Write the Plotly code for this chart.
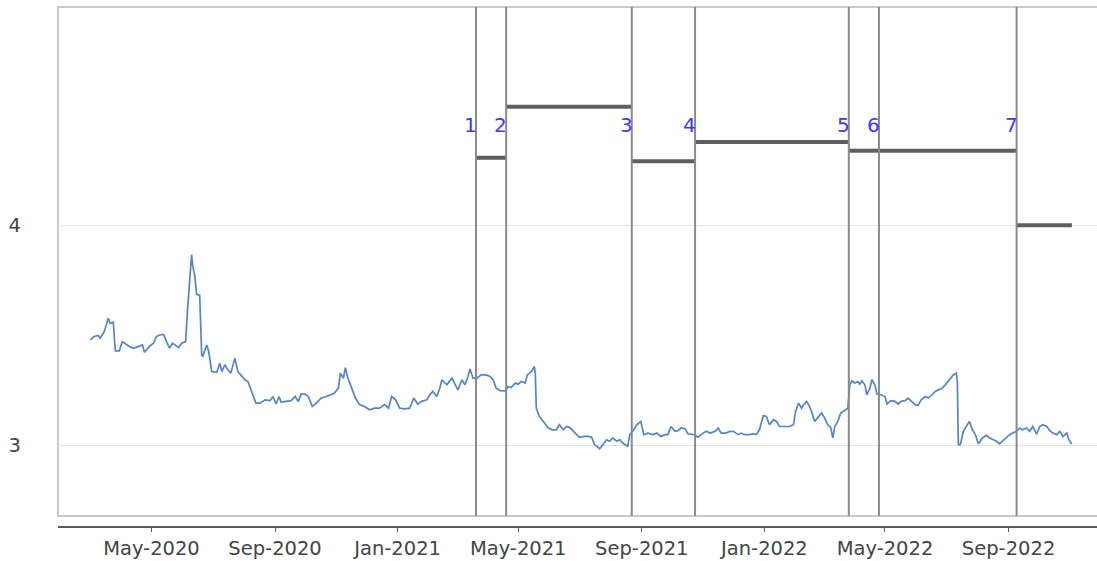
import pandas as pd
import plotly.graph_objects as go

# Daily series, sampled: days since start_date and the corresponding value
start_date = "2020-03-01"
days_since_start = [
    0, 4, 8, 10, 14, 18, 20, 23, 25, 29, 32, 36, 39, 43, 48, 52, 54, 59, 63, 66,
    69, 73, 76, 79, 82, 84, 88, 91, 95, 97, 99, 101, 102, 104, 106, 109, 111, 112,
    116, 118, 121, 126, 129, 131, 134, 137, 140, 144, 147, 150, 154, 157, 161, 165,
    169, 174, 179, 182, 185, 188, 190, 195, 200, 204, 207, 210, 214, 217, 221, 225,
    230, 235, 240, 243, 247, 249, 252, 254, 256, 260, 264, 268, 273, 278, 283, 288,
    293, 297, 300, 304, 308, 313, 318, 322, 326, 330, 335, 338, 341, 345, 348, 350,
    355, 360, 363, 366, 370, 373, 376, 378, 381, 385, 389, 394, 398, 401, 404, 408,
    413, 416, 419, 423, 426, 429, 433, 435, 439, 442, 443, 444, 447, 451, 456, 460,
    464, 467, 471, 474, 477, 481, 484, 487, 492, 496, 499, 502, 507, 510, 514, 517,
    520, 524, 527, 530, 535, 537, 540, 544, 548, 551, 555, 560, 564, 568, 572, 575,
    578, 582, 585, 588, 592, 595, 598, 602, 605, 608, 613, 617, 622, 625, 628, 632,
    637, 640, 645, 648, 651, 656, 660, 663, 666, 670, 673, 676, 680, 683, 686, 691,
    696, 700, 702, 705, 708, 710, 713, 715, 718, 721, 724, 728, 731, 734, 737, 739,
    741, 744, 747, 751, 754, 756, 758, 761, 764, 766, 768, 771, 773, 776, 778, 781,
    783, 787, 791, 793, 797, 801, 804, 807, 811, 814, 817, 821, 824, 827, 831, 834,
    838, 841, 844, 847, 851, 854, 857, 859, 862, 863, 864, 866, 869, 872, 875, 878,
    881, 884, 888, 892, 895, 899, 902, 905, 908, 912, 915, 918, 922, 925, 928, 932,
    935, 938, 942, 945, 948, 952, 955, 958, 962, 965, 968, 972, 974, 977,
]
series_values = [
    3.480, 3.495, 3.500, 3.487, 3.517, 3.578, 3.555, 3.560, 3.430, 3.430, 3.472, 3.457,
    3.450, 3.442, 3.450, 3.457, 3.424, 3.450, 3.465, 3.495, 3.502, 3.505, 3.472, 3.442,
    3.465, 3.457, 3.445, 3.465, 3.472, 3.623, 3.728, 3.867, 3.819, 3.774, 3.686, 3.683,
    3.412, 3.404, 3.457, 3.427, 3.336, 3.333, 3.374, 3.336, 3.367, 3.344, 3.329, 3.397,
    3.336, 3.321, 3.299, 3.291, 3.246, 3.193, 3.193, 3.208, 3.204, 3.223, 3.189, 3.223,
    3.198, 3.200, 3.204, 3.223, 3.200, 3.234, 3.234, 3.223, 3.178, 3.193, 3.216, 3.223,
    3.231, 3.238, 3.261, 3.329, 3.306, 3.354, 3.314, 3.261, 3.216, 3.186, 3.178, 3.163,
    3.170, 3.170, 3.186, 3.170, 3.223, 3.208, 3.170, 3.167, 3.170, 3.216, 3.189, 3.201,
    3.208, 3.231, 3.246, 3.223, 3.261, 3.299, 3.276, 3.306, 3.276, 3.253, 3.299, 3.276,
    3.314, 3.348, 3.306, 3.306, 3.321, 3.321, 3.314, 3.299, 3.261, 3.250, 3.249, 3.268,
    3.264, 3.284, 3.279, 3.291, 3.284, 3.321, 3.336, 3.359, 3.329, 3.170, 3.133, 3.110,
    3.080, 3.072, 3.072, 3.095, 3.072, 3.087, 3.083, 3.065, 3.053, 3.038, 3.042, 3.042,
    3.038, 3.005, 2.986, 3.005, 3.027, 3.020, 3.035, 3.020, 3.027, 3.012, 2.997, 3.050,
    3.065, 3.095, 3.110, 3.050, 3.057, 3.050, 3.057, 3.042, 3.050, 3.050, 3.087, 3.065,
    3.068, 3.080, 3.077, 3.053, 3.053, 3.047, 3.038, 3.050, 3.065, 3.057, 3.065, 3.080,
    3.057, 3.057, 3.065, 3.065, 3.050, 3.057, 3.050, 3.050, 3.053, 3.050, 3.072, 3.137,
    3.133, 3.095, 3.118, 3.110, 3.087, 3.087, 3.087, 3.095, 3.155, 3.193, 3.170, 3.186,
    3.201, 3.186, 3.155, 3.110, 3.125, 3.148, 3.125, 3.095, 3.083, 3.035, 3.087, 3.110,
    3.148, 3.163, 3.170, 3.276, 3.294, 3.284, 3.291, 3.279, 3.294, 3.276, 3.231, 3.261,
    3.299, 3.276, 3.234, 3.231, 3.223, 3.189, 3.204, 3.201, 3.189, 3.201, 3.204, 3.216,
    3.201, 3.186, 3.183, 3.208, 3.223, 3.216, 3.231, 3.246, 3.253, 3.258, 3.276, 3.291,
    3.306, 3.321, 3.329, 3.291, 3.005, 3.005, 3.065, 3.087, 3.110, 3.072, 3.050, 3.008,
    3.035, 3.047, 3.035, 3.027, 3.020, 3.008, 3.020, 3.035, 3.050, 3.057, 3.065, 3.080,
    3.072, 3.080, 3.065, 3.087, 3.053, 3.087, 3.095, 3.087, 3.068, 3.057, 3.050, 3.065,
    3.042, 3.057, 3.027, 3.008,
]

# Numbered events and the level that holds from each event to the next
event_labels = ["1", "2", "3", "4", "5", "6", "7"]
event_dates = ["2021-03-20", "2021-04-19", "2021-08-22", "2021-10-24",
               "2022-03-26", "2022-04-25", "2022-09-09"]
event_levels = [4.306, 4.538, 4.290, 4.378, 4.338, 4.338, 4.000]
last_level_end = "2022-11-03"

x_range = ["2020-01-29", "2022-11-28"]
y_range = [2.681, 4.990]
y_ticks = [3, 4]

FONT = "DejaVu Sans"

dates = pd.Timestamp(start_date) + pd.to_timedelta(days_since_start, unit="D")

fig = go.Figure()

fig.add_trace(go.Scatter(
    x=dates, y=series_values, mode="lines",
    line=dict(color="#5585c4", width=1.7),
    hoverinfo="skip", showlegend=False,
))

# Level segments: each runs from its event to the next one
seg_x, seg_y = [], []
ends = event_dates[1:] + [last_level_end]
for start, end, level in zip(event_dates, ends, event_levels):
    seg_x += [start, end, None]
    seg_y += [level, level, None]
fig.add_trace(go.Scatter(
    x=seg_x, y=seg_y, mode="lines",
    line=dict(color="#5e5e5e", width=4),
    hoverinfo="skip", showlegend=False,
))

shapes = [
    # plot frame
    dict(type="rect", xref="paper", yref="y domain", x0=0, x1=1.01, y0=0, y1=1,
         line=dict(color="#c9c9c9", width=2), layer="below"),
]
for d in event_dates:
    shapes.append(dict(type="line", xref="x", yref="y domain", x0=d, x1=d, y0=0, y1=1,
                       line=dict(color="#8a8a8a", width=2), layer="above"))

annotations = []
for lab, d in zip(event_labels, event_dates):
    annotations.append(dict(
        x=d, y=4.455, xref="x", yref="y", text=lab, showarrow=False,
        xanchor="right", yanchor="middle", xshift=3,
        font=dict(family=FONT, size=20, color="#3a3aff"),
    ))

fig.update_layout(
    width=1097, height=561,
    margin=dict(l=58, r=0, t=7, b=34),
    paper_bgcolor="white", plot_bgcolor="white",
    shapes=shapes, annotations=annotations,
    showlegend=False,
    xaxis=dict(
        type="date", range=x_range,
        tick0="2020-05-01", dtick="M4", tickformat="%b-%Y",
        showgrid=False, zeroline=False,
        showline=True, linecolor="#5a5a5a", linewidth=1.5,
        ticks="outside", ticklen=4, tickcolor="#5a5a5a",
        anchor="free", position=0,
        tickfont=dict(family=FONT, size=19.5, color="#444444"),
    ),
    yaxis=dict(
        domain=[0.0212, 1], range=y_range,
        tickvals=y_ticks, ticktext=[str(t) for t in y_ticks],
        showgrid=True, gridcolor="#e4e4e4", gridwidth=1,
        zeroline=False, showline=False, ticks="",
        ticklabelstandoff=36,
        tickfont=dict(family=FONT, size=19.5, color="#444444"),
    ),
)

fig.write_html("out.html")
